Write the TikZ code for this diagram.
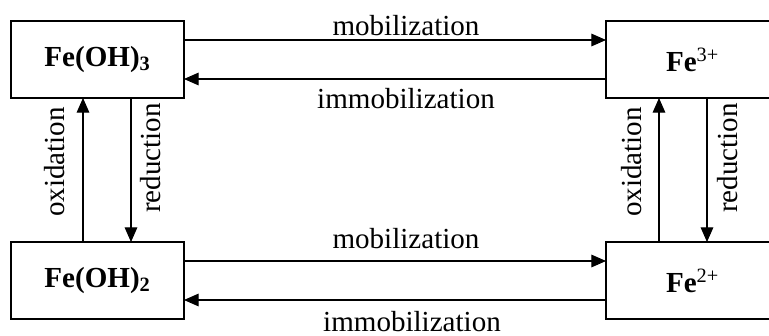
\documentclass[tikz,border=0pt]{standalone}
\usepackage{fontspec}
\setmainfont{Liberation Serif}
\usetikzlibrary{arrows.meta}
\begin{document}
\begin{tikzpicture}[x=0.75pt,y=-0.75pt,
  box/.style={draw,line width=0.9pt,minimum width=129.75pt,minimum height=57.75pt,inner sep=0pt,outer sep=0pt,font=\fontsize{21.8}{26}\selectfont\bfseries},
  arr/.style={line width=0.8pt,-{Triangle[length=11pt,width=9.5pt]}},
  lbl/.style={font=\fontsize{21.8}{26}\selectfont,inner sep=0pt}]
\clip (0,0) rectangle (769,336);
\node[box] (A) at (97.5,59.5) {Fe(OH)\textsubscript{3}};
\node[box] (B) at (692.5,59.5) {Fe\textsuperscript{\mdseries 3+}};
\node[box] (C) at (97.5,280.5) {Fe(OH)\textsubscript{2}};
\node[box] (D) at (692.5,280.5) {Fe\textsuperscript{\mdseries 2+}};
% horizontal
\draw[arr] ([yshift=14.625pt]A.east) -- ([yshift=14.625pt]B.west);
\draw[arr] ([yshift=-14.625pt]B.west) -- ([yshift=-14.625pt]A.east);
\draw[arr] ([yshift=14.625pt]C.east) -- ([yshift=14.625pt]D.west);
\draw[arr] ([yshift=-14.625pt]D.west) -- ([yshift=-14.625pt]C.east);
% vertical
\draw[arr] ([xshift=-10.875pt]C.north) -- ([xshift=-10.875pt]A.south);
\draw[arr] ([xshift=25.125pt]A.south) -- ([xshift=25.125pt]C.north);
\draw[arr] ([xshift=-25.125pt]D.north) -- ([xshift=-25.125pt]B.south);
\draw[arr] ([xshift=10.875pt]B.south) -- ([xshift=10.875pt]D.north);
% labels
\node[lbl,anchor=base] (m1) at (406,35) {mobilization};
\node[lbl,anchor=base] (i1) at (406,108) {immobilization};
\node[lbl,anchor=base] (m2) at (406,248) {mobilization};
\node[lbl,anchor=base] (i2) at (412,331.5) {immobilization};
\node[lbl,rotate=90] (o1) at (55,162) {oxidation};
\node[lbl,rotate=90] (r1) at (151,158) {reduction};
\node[lbl,rotate=90] (o2) at (632,162) {oxidation};
\node[lbl,rotate=90] (r2) at (728,158) {reduction};
\end{tikzpicture}
\end{document}
